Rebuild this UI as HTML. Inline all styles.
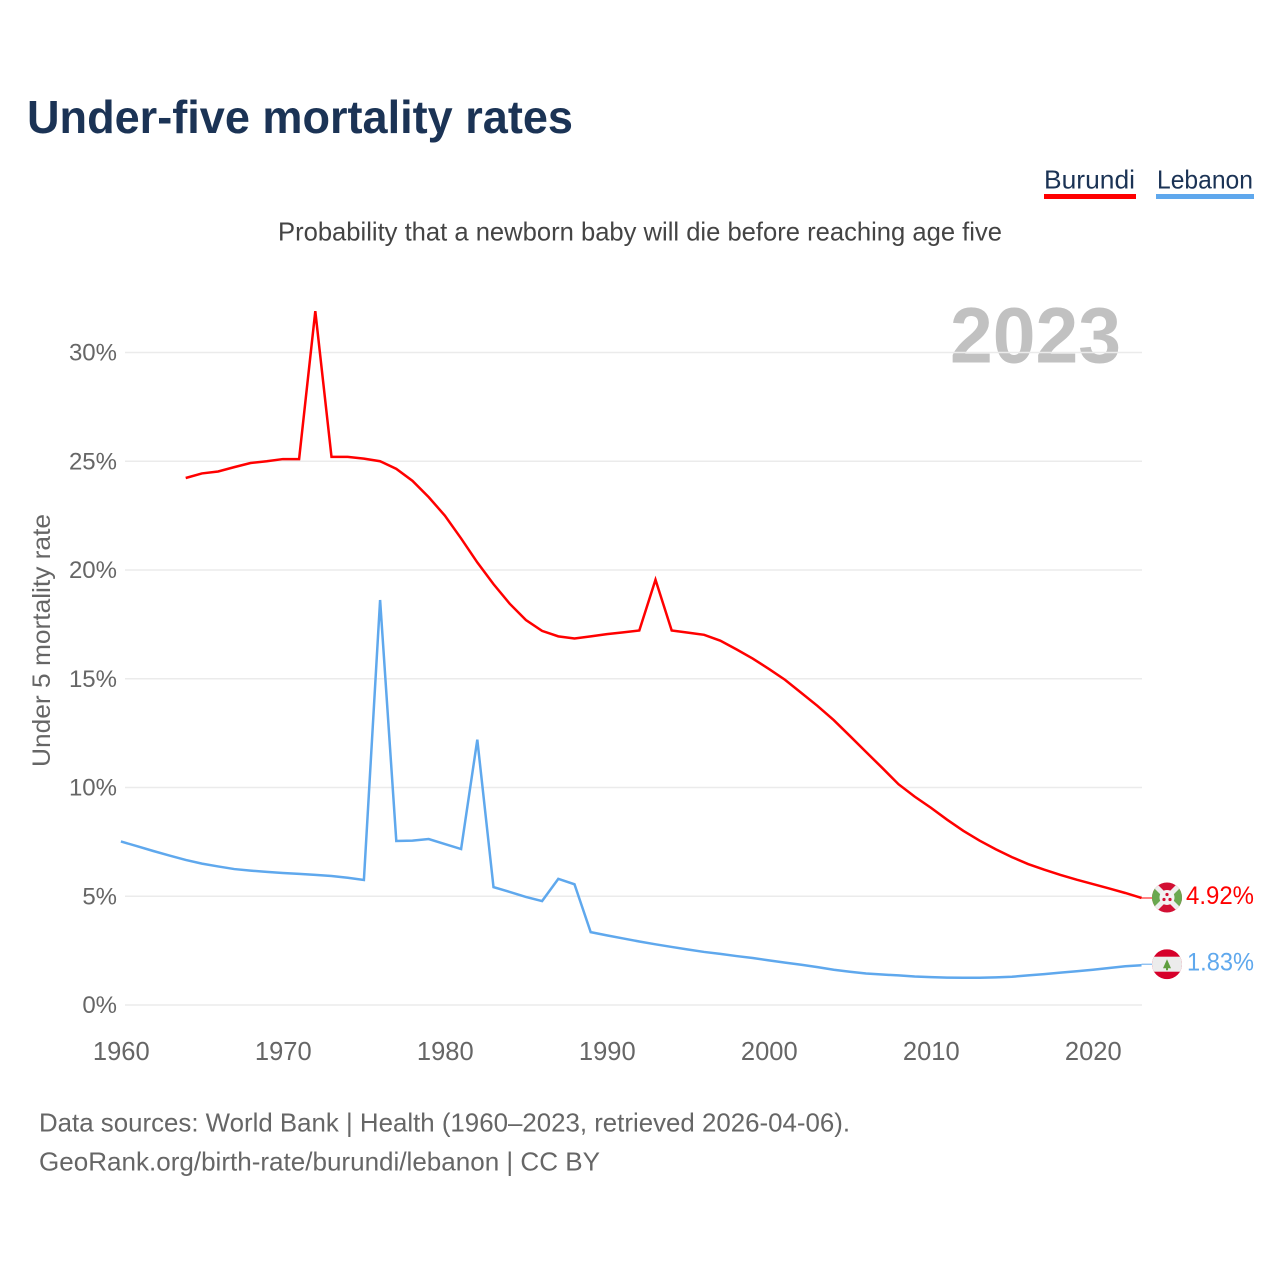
<!DOCTYPE html>
<html lang="en">
<head>
<meta charset="utf-8">
<title>Under-five mortality rates</title>
<style>
html,body{margin:0;padding:0;background:#fff;}
svg{display:block;font-family:"Liberation Sans",Arial,sans-serif;}
</style>
</head>
<body>
<svg id="chart" width="1280" height="1280" viewBox="0 0 1280 1280" xmlns="http://www.w3.org/2000/svg">
  <defs>
    <clipPath id="flag-clip-a"><circle cx="0" cy="0" r="15"></circle></clipPath>
    <clipPath id="flag-clip-b"><circle cx="0" cy="0" r="15"></circle></clipPath>
  </defs>
  <rect width="1280" height="1280" fill="#fff"></rect>
  <text x="27" y="133" font-size="46" font-weight="700" fill="#1b3355" textLength="546" lengthAdjust="spacingAndGlyphs">Under-five mortality rates</text>
  <text x="278" y="240.5" font-size="26" fill="#444" textLength="724" lengthAdjust="spacingAndGlyphs">Probability that a newborn baby will die before reaching age five</text>

  <g>
    <text x="1044" y="188.5" font-size="26" fill="#1b3355" textLength="91" lengthAdjust="spacingAndGlyphs">Burundi</text>
    <rect x="1044" y="194" width="92" height="5" fill="#ff0000"></rect>
  </g>
  <g>
    <text x="1157" y="188.5" font-size="26" fill="#1b3355" textLength="96" lengthAdjust="spacingAndGlyphs">Lebanon</text>
    <rect x="1156" y="194" width="98" height="5" fill="#5fa8ed"></rect>
  </g>

  <text x="950" y="362.5" font-size="79" font-weight="700" fill="#c1c1c1" textLength="171" lengthAdjust="spacingAndGlyphs">2023</text>

  <g id="grid"></g>
  <g id="yticks"></g>
  <g id="xticks"></g>

  <text transform="translate(50,640.5) rotate(-90)" text-anchor="middle" font-size="25" fill="#666" textLength="253" lengthAdjust="spacingAndGlyphs">Under 5 mortality rate</text>

  <g id="series"></g>
  <g id="ends"></g>

  <text x="39" y="1131.5" font-size="26" fill="#666" textLength="811" lengthAdjust="spacingAndGlyphs">Data sources: World Bank | Health (1960–2023, retrieved 2026-04-06).</text>
  <text x="39" y="1170.5" font-size="26" fill="#666" textLength="561" lengthAdjust="spacingAndGlyphs">GeoRank.org/birth-rate/burundi/lebanon | CC BY</text>
</svg>
<script>
const burundiStartYear = 1964;
const lebanonStartYear = 1960;
const burundiValues = [24.23,24.44,24.53,24.73,24.92,25.0,25.1,25.1,31.9,25.2,25.2,25.12,25.0,24.65,24.1,23.35,22.5,21.45,20.35,19.35,18.45,17.7,17.2,16.95,16.85,16.95,17.05,17.13,17.22,19.55,17.22,17.12,17.02,16.75,16.35,15.93,15.45,14.95,14.35,13.75,13.1,12.37,11.63,10.9,10.15,9.58,9.07,8.52,8.01,7.56,7.16,6.8,6.48,6.22,5.98,5.76,5.56,5.36,5.15,4.92];
const lebanonValues = [7.52,7.3,7.08,6.87,6.67,6.5,6.37,6.25,6.18,6.12,6.07,6.03,5.98,5.93,5.85,5.75,18.62,7.54,7.56,7.63,7.4,7.17,12.2,5.42,5.2,4.97,4.78,5.8,5.55,3.35,3.2,3.06,2.92,2.79,2.67,2.55,2.44,2.35,2.25,2.16,2.05,1.95,1.85,1.74,1.62,1.53,1.45,1.40,1.36,1.31,1.28,1.26,1.25,1.25,1.27,1.30,1.36,1.42,1.49,1.55,1.62,1.70,1.78,1.83];
const yTickValues = [0,5,10,15,20,25,30];
const xTickValues = [1960,1970,1980,1990,2000,2010,2020];
const burundiEndLabel = "4.92%";
const lebanonEndLabel = "1.83%";

const NS = "http://www.w3.org/2000/svg";
function xScale(year){ return 120.9 + (year - 1960) * 16.2; }
function yScale(v){ return 1005 - v * 21.75; }
function make(tag, attrs, parent){
  const el = document.createElementNS(NS, tag);
  for (const k in attrs) el.setAttribute(k, attrs[k]);
  parent.appendChild(el);
  return el;
}
const grid = document.getElementById("grid");
const yticks = document.getElementById("yticks");
const xticks = document.getElementById("xticks");
const series = document.getElementById("series");
const ends = document.getElementById("ends");

yTickValues.forEach(function(v){
  const line = make("line", {x1:125, x2:1142, y1:yScale(v), y2:yScale(v), stroke:"#ebebeb", "stroke-width":1.5}, grid);
  
  
  const label = make("text", {x:117, y:yScale(v)+8, "text-anchor":"end", "font-size":24, fill:"#666"}, yticks);
  
  
  label.textContent = v + "%";
});
xTickValues.forEach(function(y){
  const label = make("text", {x:xScale(y)+0.4, y:1060, "text-anchor":"middle", "font-size":25.5, fill:"#666"}, xticks);
  
  
  label.textContent = y;
});

function pathFrom(values, start){
  return values.map(function(v,i){
    return (i ? "L" : "M") + xScale(start + i).toFixed(2) + " " + yScale(v).toFixed(2);
  }).join(" ");
}
const lebanonLine = make("path", {d:pathFrom(lebanonValues, lebanonStartYear), fill:"none", stroke:"#5fa8ed", "stroke-width":2.5, "stroke-linejoin":"miter"}, series);


const burundiLine = make("path", {d:pathFrom(burundiValues, burundiStartYear), fill:"none", stroke:"#ff0000", "stroke-width":2.5, "stroke-linejoin":"miter"}, series);



const lastX = xScale(2023);
const by = yScale(burundiValues[burundiValues.length - 1]);
const ly = yScale(lebanonValues[lebanonValues.length - 1]);

const leaderB = make("line", {x1:lastX, x2:1152, y1:by, y2:by, stroke:"#ff0000", "stroke-width":1}, ends);


const leaderL = make("line", {x1:lastX, x2:1152, y1:ly - 1, y2:ly - 1, stroke:"#5fa8ed", "stroke-width":1}, ends);



const flagB = make("g", {transform:"translate(1167," + (by - 0.5) + ")", "clip-path":"url(#flag-clip-a)"}, ends);


make("rect", {x:-15, y:-15, width:30, height:30, fill:"#d21034"}, flagB);
make("path", {d:"M-15 -15 L0 0 L-15 15 Z", fill:"#6aa84f"}, flagB);
make("path", {d:"M15 -15 L0 0 L15 15 Z", fill:"#6aa84f"}, flagB);
make("path", {d:"M-15 -15 L15 15 M15 -15 L-15 15", stroke:"#eee", "stroke-width":5}, flagB);
make("circle", {cx:0, cy:0, r:7.5, fill:"#f2f2f2"}, flagB);
make("circle", {cx:0, cy:-3, r:1.6, fill:"#d21034"}, flagB);
make("circle", {cx:-3, cy:2, r:1.6, fill:"#d21034"}, flagB);
make("circle", {cx:3, cy:2, r:1.6, fill:"#d21034"}, flagB);

const flagL = make("g", {transform:"translate(1167," + (ly - 1) + ")", "clip-path":"url(#flag-clip-b)"}, ends);


make("rect", {x:-15, y:-15, width:30, height:30, fill:"#d6002a"}, flagL);
make("rect", {x:-15, y:-7.5, width:30, height:15, fill:"#ececec"}, flagL);
make("path", {d:"M0 -5 L4 4 L1 4 L1 6 L-1 6 L-1 4 L-4 4 Z", fill:"#5f9e3f"}, flagL);

const labelB = make("text", {x:1254, y:by + 6, "text-anchor":"end", "font-size":25, fill:"#ff0000", textLength:68, lengthAdjust:"spacingAndGlyphs"}, ends);


labelB.textContent = burundiEndLabel;
const labelL = make("text", {x:1254, y:ly + 5.5, "text-anchor":"end", "font-size":25, fill:"#5fa8ed", textLength:67, lengthAdjust:"spacingAndGlyphs"}, ends);


labelL.textContent = lebanonEndLabel;
</script>
</body>
</html>
